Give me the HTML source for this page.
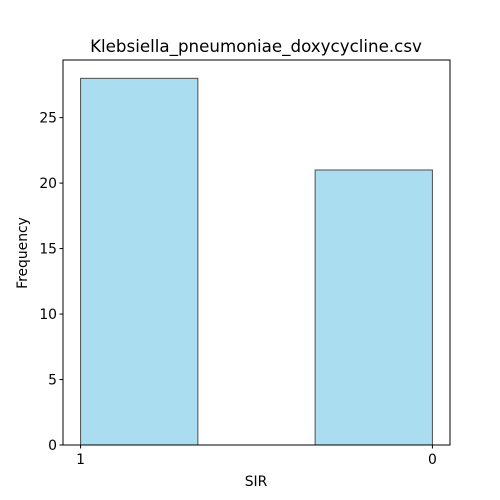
<!DOCTYPE html>
<html><head><meta charset="utf-8"><style>
body{margin:0;background:#fff}
svg{display:block;font-family:"DejaVu Sans","Liberation Sans",sans-serif}
</style></head><body>
<svg id="chart" width="500" height="500" viewBox="0 0 500 500">
<rect width="500" height="500" fill="#fff"/>
<text x="256" y="52" text-anchor="middle" font-size="16.7">Klebsiella_pneumoniae_doxycycline.csv</text>
<g id="bars"></g>
<g id="axes"></g>
<text x="256" y="486" text-anchor="middle" font-size="13.9">SIR</text>
<text transform="translate(27,253) rotate(-90)" text-anchor="middle" font-size="13.9">Frequency</text>
</svg>
<script>
const categories = ["1", "0"];
const frequencies = [28, 21];
const yTicks = [0, 5, 10, 15, 20, 25];

const L = 63, R = 450, T = 60, B = 445;
const xMin = -0.15, xMax = 3.15, yMax = 29.4;
const xs = v => L + (v - xMin) / (xMax - xMin) * (R - L);
const ys = v => B - v / yMax * (B - T);
const NS = "http://www.w3.org/2000/svg";
const bars = document.getElementById("bars");
const axes = document.getElementById("axes");
function mk(tag, attrs, parent) {
  const e = document.createElementNS(NS, tag);
  for (const k in attrs) e.setAttribute(k, attrs[k]);
  parent.appendChild(e);
  return e;
}
frequencies.forEach((f, i) => {
  const x0 = xs(i * 2), x1 = xs(i * 2 + 1);
  const r = mk("rect", {x: x0, y: ys(f), width: x1 - x0, height: ys(0) - ys(f), fill: "#abddf1", stroke: "#4d4d4d", "stroke-width": 1}, bars);
  
  
});
const frame = mk("rect", {x: L, y: T, width: R - L, height: B - T, fill: "none", stroke: "#000", "stroke-width": 1}, axes);


yTicks.forEach(t => {
  const y = ys(t);
  mk("line", {x1: L - 3.5, x2: L, y1: y, y2: y, stroke: "#000"}, axes);
  const tx = mk("text", {x: L - 6, y: y + 5, "text-anchor": "end", "font-size": 13.9}, axes);
  tx.textContent = t;
  
  
});
categories.forEach((c, i) => {
  const x = xs(i * 3);
  mk("line", {x1: x, x2: x, y1: B, y2: B + 3.5, stroke: "#000"}, axes);
  const tx = mk("text", {x: x, y: B + 19, "text-anchor": "middle", "font-size": 13.9}, axes);
  tx.textContent = c;
  
  
});
</script>
</body></html>
